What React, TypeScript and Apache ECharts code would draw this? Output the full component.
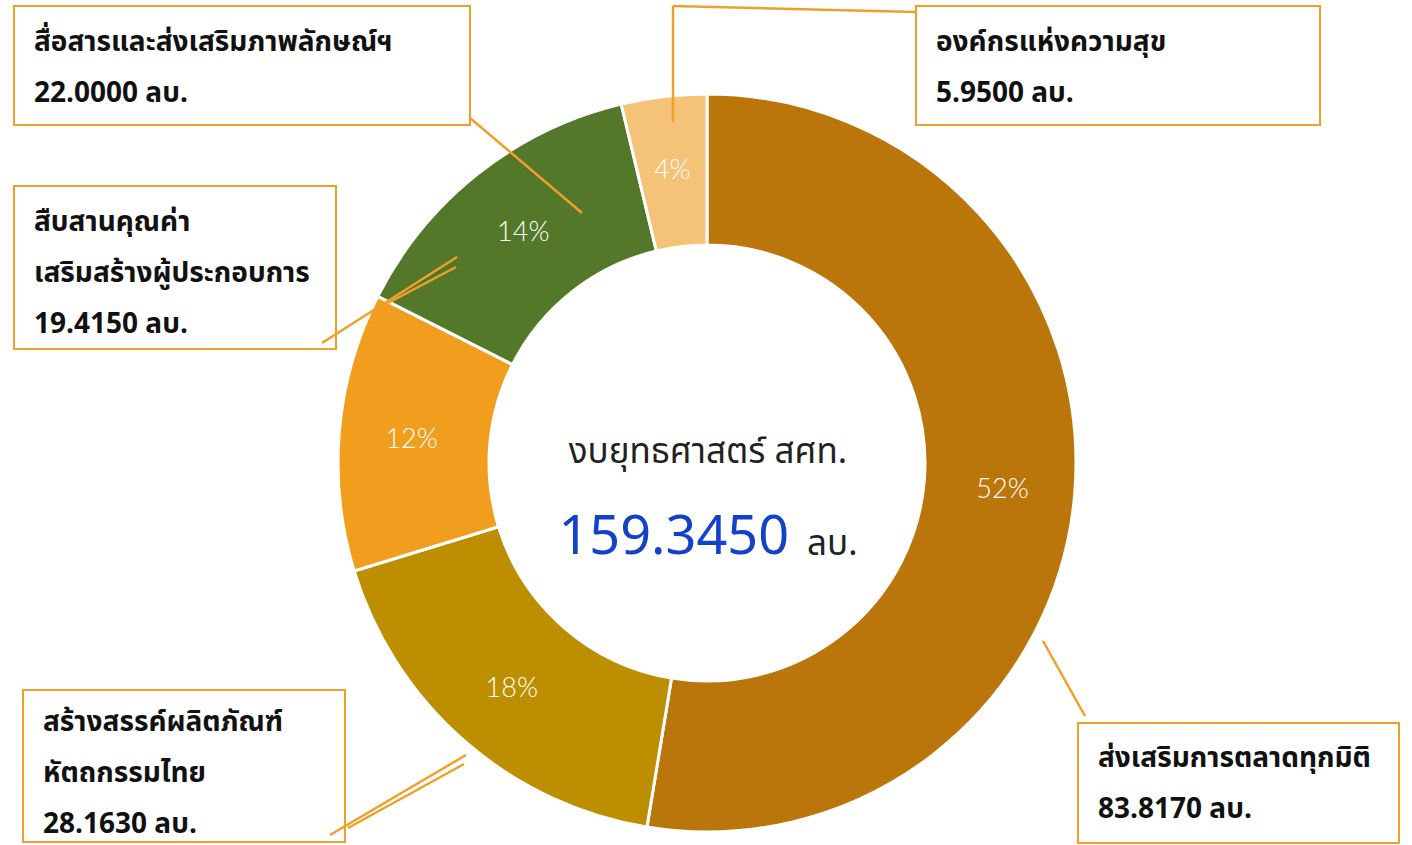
import React, { useEffect, useRef } from "react";
import * as echarts from "echarts";

// ---- data ----
const categories: string[] = [
  "ส่งเสริมการตลาดทุกมิติ",
  "สร้างสรรค์ผลิตภัณฑ์\nหัตถกรรมไทย",
  "สืบสานคุณค่า\nเสริมสร้างผู้ประกอบการ",
  "สื่อสารและส่งเสริมภาพลักษณ์ฯ",
  "องค์กรแห่งความสุข",
];
const values: number[] = [83.817, 28.163, 19.415, 22.0, 5.95];
const unit = "ลบ.";
const centerTitle = "งบยุทธศาสตร์ สศท.";

// ---- styles / layout ----
const colors = ["#BB760B", "#BD8F00", "#F19E1F", "#54782A", "#F5C377"];
const boxColor = "#F0A02A";
const FONT = "'Noto Sans Thai', Leelawadee, Tahoma, 'Noto Sans', sans-serif";

// label box layout: [x, y, w, h, firstLineCenterOffset]
const boxes: number[][] = [
  [1078, 723, 321, 120, 35],
  [23, 690, 322, 152, 32],
  [14, 186, 322, 163, 36],
  [14, 6, 456, 119, 36],
  [916, 6, 404, 119, 36],
];
// leader lines per slice: list of [x1,y1,x2,y2]
const leaders: number[][][] = [
  [[1043, 641, 1085, 716]],
  [[330, 835, 466, 755], [348, 828, 464, 764]],
  [[322, 343, 457, 257], [388, 303, 456, 267]],
  [[470, 118, 582, 213]],
  [[916, 12, 673, 6], [673, 6, 673, 122]],
];

export default function App() {
  const ref = useRef<HTMLDivElement>(null);
  useEffect(() => {
    document.body.style.margin = "0";
    const chart = echarts.init(ref.current!, null, { renderer: "svg" });
    const total = values.reduce((a, b) => a + b, 0);
    const graphics: any[] = [];
    categories.forEach((cat, i) => {
      const [x, y, w, h, off] = boxes[i];
      graphics.push({
        type: "rect",
        shape: { x, y, width: w, height: h },
        style: { fill: "#fff", stroke: boxColor, lineWidth: 2 },
        z: 10,
      });
      const lines = cat.split("\n").concat([values[i].toFixed(4) + " " + unit]);
      lines.forEach((ln, j) => {
        graphics.push({
          type: "text",
          x: x + 20,
          y: y + off + j * 51,
          style: {
            text: ln,
            font: "bold 28px " + FONT,
            fill: "#111",
            textVerticalAlign: "middle",
            textAlign: "left",
          },
          z: 11,
        });
      });
      leaders[i].forEach((l) => {
        graphics.push({
          type: "line",
          shape: { x1: l[0], y1: l[1], x2: l[2], y2: l[3] },
          style: { stroke: boxColor, lineWidth: 2.5 },
          z: 12,
        });
      });
    });
    graphics.push({
      type: "text",
      x: 708,
      y: 452,
      style: {
        text: centerTitle,
        font: "35px " + FONT,
        fill: "#222",
        textAlign: "center",
        textVerticalAlign: "middle",
      },
    });
    graphics.push({
      type: "text",
      x: 708,
      y: 537,
      style: {
        text: "{a|" + total.toFixed(4) + "}{b|" + unit + "}",
        textAlign: "center",
        textVerticalAlign: "middle",
        rich: {
          a: { font: "54px " + FONT, fill: "#1341C8", color: "#1341C8" },
          b: { font: "35px " + FONT, fill: "#222", color: "#222", padding: [14, 0, 0, 18] },
        },
      },
    });

    chart.setOption({
      animation: false,
      backgroundColor: "#fff",
      color: colors,
      series: [
        {
          type: "pie",
          center: [707, 463],
          radius: [218, 369],
          startAngle: 90,
          clockwise: true,
          percentPrecision: 0,
          itemStyle: { borderColor: "#fff", borderWidth: 3 },
          label: {
            show: true,
            position: "inside",
            formatter: "{d}%",
            color: "#fff",
            fontSize: 27,
            fontFamily: "Lato, 'Noto Sans', sans-serif",
            fontWeight: 300,
          },
          labelLine: { show: false },
          emphasis: { disabled: true },
          data: categories.map((c, i) => ({ name: c, value: values[i] })),
        },
      ],
      graphic: graphics,
    });
    return () => chart.dispose();
  }, []);
  return <div ref={ref} style={{ width: 1412, height: 845 }} />;
}
